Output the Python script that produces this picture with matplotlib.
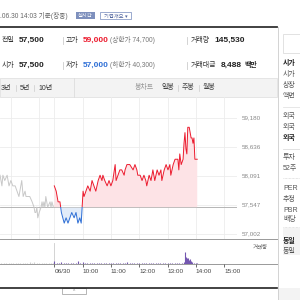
import matplotlib
matplotlib.use('Agg')
import matplotlib.pyplot as plt
import matplotlib.transforms as mtransforms
from matplotlib.patches import Rectangle
import numpy as np

plt.rcParams['font.family'] = ['Liberation Sans', 'Noto Sans CJK KR', 'DejaVu Sans']

# --- quote summary ---
prev_close = 57500
quote_rows = [('전일', '57,500', '고가', '59,000', '(상한가 74,700)', '거래량', '145,530'),
              ('시가', '57,500', '저가', '57,000', '(하한가 40,300)', '거래대금', '8,488')]

# --- price axis labels ---
price_ticks = [59180, 58636, 58091, 57547, 57002]
time_ticks = ['06/30', '10:00', '11:00', '12:00', '13:00', '14:00', '15:00']

# --- previous day (gray) minute prices ---
prev_times = ['13:37', '13:41', '13:43', '13:47', '13:52', '13:56', '14:00', '14:04', '14:09', '14:13',
              '14:17', '14:19', '14:23', '14:26', '14:30', '14:32', '14:36', '14:40', '14:45', '14:49',
              '14:51', '14:53', '14:55', '14:57', '15:00', '15:04', '15:06', '15:08', '15:10', '15:12',
              '15:14', '15:16', '15:18', '15:23', '15:25', '15:27', '15:30']
prev_prices = [58100, 57900, 58100, 58000, 58100, 57900, 58000, 57900, 57900, 57800,
               57700, 57800, 58000, 57700, 57800, 57700, 57700, 57700, 57600, 57500,
               57400, 57400, 57500, 57300, 57400, 57500, 57600, 57500, 57600, 57500,
               57700, 57600, 57500, 57600, 57500, 57600, 57500]

# --- today minute prices ---
today_times = ['09:00', '09:04', '09:08', '09:12', '09:15', '09:21', '09:25', '09:29', '09:33', '09:37',
               '09:42', '09:46', '09:50', '09:54', '09:57', '09:59', '10:01', '10:03', '10:07', '10:11',
               '10:16', '10:20', '10:24', '10:28', '10:33', '10:37', '10:41', '10:43', '10:47', '10:52',
               '10:56', '11:00', '11:04', '11:09', '11:11', '11:15', '11:19', '11:23', '11:28', '11:30',
               '11:34', '11:40', '11:47', '11:51', '11:55', '11:57', '12:02', '12:06', '12:10', '12:14',
               '12:16', '12:21', '12:25', '12:29', '12:33', '12:38', '12:42', '12:46', '12:48', '12:53',
               '12:57', '13:01', '13:05', '13:07', '13:12', '13:16', '13:20', '13:22', '13:24', '13:26',
               '13:29', '13:33', '13:35', '13:37', '13:39', '13:41', '13:43', '13:46', '13:48', '13:50',
               '13:52', '13:54', '13:56', '13:58', '14:03']
today_prices = [57900, 57800, 57600, 57600, 57400, 57200, 57300, 57200, 57300, 57400,
                57300, 57400, 57200, 57300, 57200, 57500, 57800, 57700, 57800, 57900,
                57800, 58000, 57900, 57800, 58000, 58100, 58000, 58100, 58000, 57900,
                58000, 57900, 58000, 58300, 58000, 58100, 58200, 58200, 58100, 58200,
                58300, 58300, 58200, 58300, 58200, 58100, 58100, 58000, 58100, 58000,
                57900, 58100, 58000, 58200, 58000, 58200, 58100, 58200, 58000, 58200,
                58300, 58200, 58300, 58100, 58300, 58400, 58400, 58400, 58200, 58500,
                58300, 58400, 58700, 58900, 58600, 58500, 59000, 59000, 58900, 58800,
                58800, 58700, 58800, 58400, 58400]

# --- volume ---
prev_vol_times = ['13:40', '13:45', '13:50', '13:55', '14:00', '14:05', '14:10', '14:15', '14:20', '14:25',
                  '14:30', '14:35', '14:40', '14:45', '14:50', '14:55', '15:00', '15:05', '15:10', '15:15',
                  '15:20', '15:25', '15:30']
prev_vol = [300, 400, 300, 300, 400, 300, 400, 300, 500, 400,
            400, 500, 700, 600, 800, 500, 600, 400, 500, 400, 300, 400, 600]
today_vol_times = ['09:00', '09:05', '09:10', '09:15', '09:20', '09:25', '09:30', '09:35', '09:40', '09:45',
                   '09:50', '09:55', '10:00', '10:05', '10:10', '10:15', '10:20', '10:25', '10:30', '10:35',
                   '10:40', '10:45', '10:50', '10:55', '11:00', '11:05', '11:10', '11:15', '11:20', '11:25',
                   '11:30', '11:35', '11:40', '11:45', '11:50', '11:55', '12:00', '12:05', '12:10', '12:15',
                   '12:20', '12:25', '12:30', '12:35', '12:40', '12:45', '12:50', '12:55', '13:00', '13:05',
                   '13:10', '13:15', '13:20', '13:25', '13:30', '13:34', '13:37', '13:39', '13:41', '13:44',
                   '13:46', '13:48', '13:50', '13:52', '13:56', '14:00', '14:03']
today_vol = [1100, 600, 500, 700, 400, 500, 400, 600, 500, 400,
             1300, 500, 900, 500, 400, 400, 500, 400, 400, 400,
             400, 500, 400, 400, 400, 400, 500, 400, 400, 400,
             500, 800, 400, 400, 500, 400, 400, 400, 400, 400,
             400, 500, 400, 400, 400, 400, 400, 400, 500, 400,
             400, 400, 500, 400, 500, 700, 4700, 2900, 2300, 2500,
             1600, 1900, 1200, 800, 500, 400, 300]


def to_min(t):
    h, m = t.split(':')
    return int(h) * 60 + int(m) - 540


prev_x = np.array([to_min(t) - 392 for t in prev_times])
today_x = np.array([to_min(t) for t in today_times])
today_p = np.array(today_prices)

fig = plt.figure(figsize=(3, 3), dpi=100)

# page canvas in pixel coordinates
page = fig.add_axes([0, 0, 1, 1], zorder=0)
page.set_xlim(0, 300)
page.set_ylim(300, 0)
page.axis('off')

red = '#ec1b2e'
blue = '#2e6fd6'
dark = '#222222'
gray_txt = '#777777'
kr = 5.0

# header
page.text(0, 15.5, '.06.30 14:03 기준(장중)', fontsize=4.8, color='#666666', va='center')
page.add_patch(Rectangle((76, 12.3), 19, 6.5, fc='#7e90bd', ec='none'))
page.text(85.5, 15.6, '실시간', fontsize=3.8, color='white', ha='center', va='center')
page.add_patch(Rectangle((100, 12.2), 31, 6.8, fc='white', ec='#8a9cc7', lw=0.6))
page.text(115.5, 15.6, '기업개요 ▾', fontsize=3.8, color='#5367a0', ha='center', va='center')
page.plot([0, 277], [27, 27], color='#333333', lw=1.3)

# quote rows
for (lab1, val1, lab2, val2, lim, lab3, val3), y, vcol in zip(quote_rows, [40.5, 65], [red, blue]):
    page.text(2, y, lab1, fontsize=kr, color='#333333', va='center')
    page.text(19, y, val1, fontsize=6, fontweight='bold', color=dark, va='center')
    page.plot([62.5, 62.5], [y - 3.5, y + 3.5], color='#cccccc', lw=0.6)
    page.text(66, y, lab2, fontsize=kr, color='#333333', va='center')
    page.text(83, y, val2, fontsize=6, fontweight='bold', color=vcol, va='center')
    page.text(110, y, lim, fontsize=4.8, color=gray_txt, va='center')
    page.plot([186.5, 186.5], [y - 3.5, y + 3.5], color='#cccccc', lw=0.6)
    page.text(191, y, lab3, fontsize=kr, color='#333333', va='center')
    xv = 214 if lab3 == '거래량' else 221
    page.text(xv, y, val3, fontsize=6, fontweight='bold', color=dark, va='center')
page.text(244, 65, '백만', fontsize=kr, color=dark, va='center', fontweight='bold')

# tab bar
page.add_patch(Rectangle((0, 77.5), 277, 19, fc='#f3f3f3', ec='#dddddd', lw=0.5))
page.plot([74, 74], [77.5, 96.5], color='#dddddd', lw=0.6)
for x, s in [(1, '3년'), (19.5, '5년'), (38, '10년')]:
    page.text(x, 88, s, fontsize=kr, color='#333333', va='center')
for x in [15.5, 33.5]:
    page.plot([x, x], [85, 91], color='#cccccc', lw=0.5)
page.text(135, 88, '봉차트', fontsize=kr, color='#999999', va='center')
for x, s in [(162, '일봉'), (182, '주봉'), (203, '월봉')]:
    page.text(x, 88, s, fontsize=kr, color='#444444', va='center')
for x in [177.5, 199]:
    page.plot([x, x], [85, 91], color='#cccccc', lw=0.5)

# right side panel
page.plot([277.5, 277.5], [27, 300], color='#cccccc', lw=0.6)
page.add_patch(Rectangle((283, 33.5), 20, 19.5, fc='white', ec='#dddddd', lw=0.6))
page.add_patch(Rectangle((283, 228), 20, 27, fc='#f3f3f3', ec='none'))
page.add_patch(Rectangle((278, 288), 22, 12, fc='#f3f3f3', ec='none'))
side = [(64, '시가', True), (74.5, '시가', False), (85.7, '상장', False), (96.7, '액면', False),
        (116.5, '외국', False), (127.3, '외국', False), (138.3, '외국', True),
        (157.7, '투자', False), (168.3, '52주', False), (189, 'PER', False), (199.5, '추정', False),
        (210, 'PBR', False), (219.5, '배당', False), (241.5, '동일', True), (251.7, '동일', False)]
for y, s, b in side:
    page.text(283, y, s, fontsize=kr, color='#222222' if b else '#555555', va='center',
              fontweight='bold' if b else 'normal', clip_on=True)
page.plot([283, 300], [106.7, 106.7], color='#e3e3e3', lw=0.6)
page.plot([283, 300], [149.3, 149.3], color='#dddddd', lw=0.6)
page.plot([283, 300], [178.3, 178.3], color='#cccccc', lw=0.5, ls=(0, (1, 1)))
page.plot([283, 300], [226.7, 226.7], color='#cccccc', lw=0.5, ls=(0, (1, 1)))

# chart frame lines
page.plot([0, 277], [239, 239], color='#999999', lw=0.7)
page.plot([0, 277], [264, 264], color='#999999', lw=0.7)
page.plot([0, 277], [287.7, 287.7], color='#222222', lw=1.2)
page.add_patch(Rectangle((62, 288.3), 24, 5.7, fc='white', ec='#aaaaaa', lw=0.6))
page.text(74, 291.5, '^', fontsize=3.5, color='#888888', ha='center', va='center')

# price chart
xl = (-115.1, 387.3)
ax = fig.add_axes([0, 1 - 239 / 300, 237 / 300, 142 / 300], zorder=1)
ax.set_facecolor('none')
ax.set_xlim(*xl)
ax.set_ylim(56902, 59569)
for s in ax.spines.values():
    s.set_visible(False)
ax.set_xticks([])
ax.set_yticks([])
for p in price_ticks:
    ax.axhline(p, color='#ececec', lw=0.6, zorder=0)
for m in [-92, -32, 0, 60, 120, 180, 240, 300, 360]:
    ax.axvline(m, color='#ececec', lw=0.6, zorder=0)
ax.plot([xl[0], xl[1]], [prev_close, prev_close], color='#aaaaaa', lw=0.6, zorder=1)

ax.plot(prev_x, prev_prices, color='#c8c8c8', lw=0.7, zorder=2)
ax.fill_between(today_x, today_p, prev_close, where=today_p >= prev_close, interpolate=True,
                color='#fde3e6', lw=0, zorder=1)
ax.fill_between(today_x, today_p, prev_close, where=today_p <= prev_close, interpolate=True,
                color='#e2ecf9', lw=0, zorder=1)
ln_r, = ax.plot(today_x, today_p, color=red, lw=0.7, zorder=3)
ln_b, = ax.plot(today_x, today_p, color=blue, lw=0.7, zorder=3)
ln_r.set_clip_path(Rectangle((xl[0], prev_close), xl[1] - xl[0], 5000, transform=ax.transData))
ln_b.set_clip_path(Rectangle((xl[0], prev_close - 5000), xl[1] - xl[0], 5000, transform=ax.transData))

trans = mtransforms.blended_transform_factory(ax.transAxes, ax.transData)
for p in price_ticks:
    ax.text(242 / 237, p, f'{p:,}', transform=trans, fontsize=4.5, color='#888888',
            va='center', clip_on=False)

# volume chart
vax = fig.add_axes([0, 1 - 264 / 300, 237 / 300, 25 / 300], zorder=1)
vax.set_facecolor('none')
vax.set_xlim(*xl)
vax.set_ylim(0, 10000)
for s in vax.spines.values():
    s.set_visible(False)
vax.set_yticks([])
vax.axvline(0, ymax=0.85, color='#cccccc', lw=0.6)
vax.vlines([to_min(t) - 392 for t in prev_vol_times], 0, prev_vol, color='#cfcfcf', lw=0.8)
vax.vlines([to_min(t) for t in today_vol_times], 0, today_vol, color='#7457b0', lw=0.8)
vax.set_xticks([0, 60, 120, 180, 240, 300, 360])
vax.set_xticklabels(time_ticks, fontsize=4.6, color='#444444', ha='left')
vax.tick_params(axis='x', length=2.2, width=0.6, color='#555555', pad=1.2)
vax.add_patch(Rectangle((250.5 / 237, 0.55), 0.8 / 237, 0.28, transform=vax.transAxes,
                        fc='#7457b0', ec='none', clip_on=False))
vax.text(252.5 / 237, 0.69, '거래량', transform=vax.transAxes, fontsize=3.9, color='#555555',
         va='center', clip_on=False)

plt.savefig('out.png', dpi=100)
